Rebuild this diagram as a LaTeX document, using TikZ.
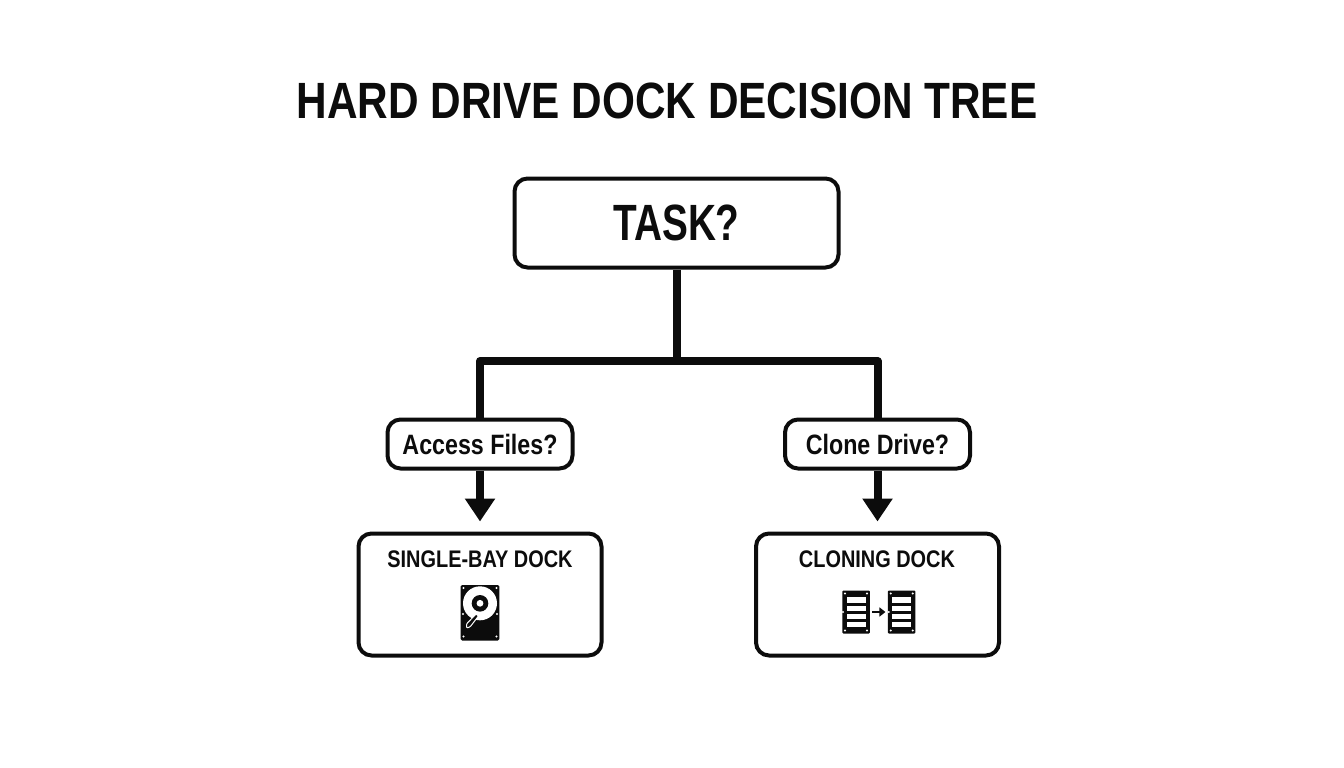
\documentclass[tikz,border=0pt]{standalone}
\usepackage{fontspec}
\setmainfont[FakeStretch=0.83]{Liberation Sans}
\newfontfamily\narrowfont[FakeStretch=0.76]{Liberation Sans}
\usetikzlibrary{arrows.meta}
\definecolor{ink}{HTML}{0C0C0C}
\tikzset{
x=1pt, y=-1pt, % one unit is one pixel of the picture, y going down
every node/.style={text=ink, font=\bfseries},
box/.style={draw=ink, line width=4pt, rounded corners=13pt, fill=white, inner sep=0pt}, % sets the properties of each box
ask/.style={box, minimum width=185pt, minimum height=49pt, font=\bfseries\fontsize{28}{32}\selectfont},
dock/.style={box, minimum width=243pt, minimum height=122pt},
dock title/.style={font=\bfseries\fontsize{24}{30}\selectfont},
trunk/.style={draw=ink, line width=8pt, line join=round},
branch/.style={trunk, -{Triangle[width=29pt, length=23pt]}, shorten >=10pt},
bay/.style={fill=ink, rounded corners=1pt, minimum width=27.5pt, minimum height=43pt, inner sep=0pt},
}

\begin{document}
\begin{tikzpicture}
    \useasboundingbox (0,0) rectangle (1344,768);
    \node[font=\bfseries\fontsize{51}{56}\selectfont] (title) at (667,101) {HARD DRIVE DOCK DECISION TREE};

    \node[box, minimum width=324pt, minimum height=89pt, font=\narrowfont\bfseries\fontsize{51}{56}\selectfont] (task) at (676.5,223) {TASK?};
    \coordinate (split) at (676.5,361);
    \node[ask] (access) at (480,444) {Access Files?};
    \node[ask] (clone) at (877.5,444) {Clone Drive?};
    \node[dock] (single) at (480,594.5) {};
    \node[dock] (cloning) at (877.5,594.5) {};
    \node[dock title] (singletext) at (480,559) {SINGLE-BAY DOCK};
    \node[dock title] (cloningtext) at (877,559) {CLONING DOCK};

    \draw[trunk] (task.south) -- (split);
    \draw[trunk] (access.north) |- (split) -| (clone.north);
    \draw[branch] (access.south) -- (single.north);
    \draw[branch] (clone.south) -- (cloning.north);

    % hard drive icon
    \fill[ink, rounded corners=1.5pt] (460.7,585) rectangle (499.3,640.5);
    \fill[white] (480,603.3) circle (17);
    \fill[ink] (480,603.3) circle (8.3);
    \fill[white] (480,603.3) circle (3.4);
    \draw[white, line width=1pt, fill=ink, rounded corners=1pt] (476,614) -- (478.5,616) -- (470,627) -- (466.5,628) -- (466.5,624) -- cycle;
    \foreach \sx/\sy in {463.5/588, 496.5/588, 463.5/636.5, 496.5/636.5, 463/614, 497/614}
        \fill[white] (\sx,\sy) circle (1.2);

    % cloning icon
    \node[bay] (bayleft) at (856,612) {};
    \node[bay] (bayright) at (901.7,612) {};
    \draw[ink, line width=2.8pt, -{Triangle[width=9pt, length=6pt]}] (bayleft.east) ++(2.5,0) -- ++(13,0);
    \foreach \bx in {856,901.7} {
        \foreach \by in {600,608.2,616.2,624.2}
            \fill[white] (\bx-9.5,\by-2.6) rectangle (\bx+9.5,\by+2.6);
        \foreach \sx/\sy in {-11/-18.5, 11/-18.5, -11/18.5, 11/18.5, -13/0}
            \fill[white] (\bx+\sx,612+\sy) circle (1.1);
    }
\end{tikzpicture}
\end{document}
